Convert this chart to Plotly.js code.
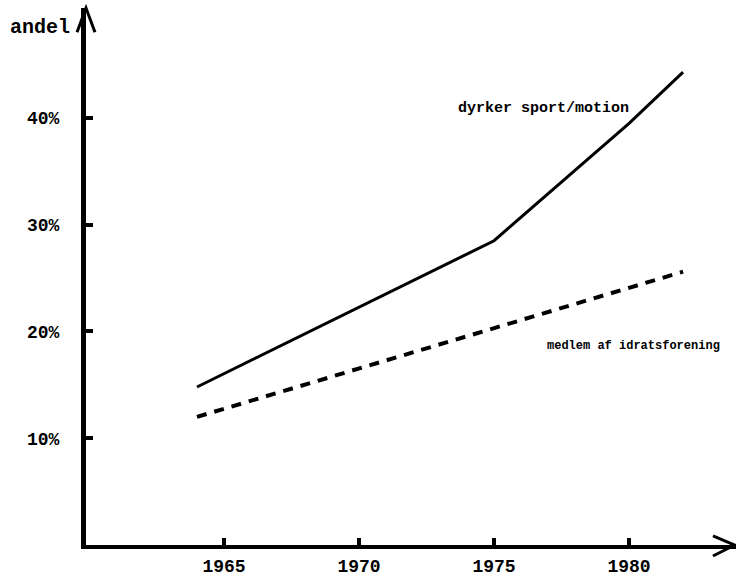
<!DOCTYPE html>
<html>
<head>
<meta charset="utf-8">
<script src="https://cdn.plot.ly/plotly-3.0.1.min.js"></script>
<style>html,body{margin:0;padding:0;background:#fff;}#chart{width:736px;height:579px;}</style>
</head>
<body>
<div id="chart"></div>
<script>
// Data
const sportYears = [1964, 1975, 1980, 1982];
const sportShare = [14.8, 28.5, 39.5, 44.3];
const memberYears = [1964, 1975, 1982];
const memberShare = [12.0, 20.3, 25.6];
const xTickVals = [1965, 1970, 1975, 1980];
const xTickText = ['1965', '1970', '1975', '1980'];
const yTickVals = [10, 20, 30, 40];
const yTickText = ['10%', '20%', '30%', '40%'];
const sportLabel = 'dyrker sport/motion';
const memberLabel = 'medlem af idratsforening';
const yAxisLabel = 'andel';

const mono = 'Liberation Mono, DejaVu Sans Mono, monospace';

const traces = [
  {x: sportYears, y: sportShare, type: 'scatter', mode: 'lines',
   line: {color: '#000', width: 3}, hoverinfo: 'skip', showlegend: false},
  {x: memberYears, y: memberShare, type: 'scatter', mode: 'lines',
   line: {color: '#000', width: 4, dash: '10px,8px'}, hoverinfo: 'skip', showlegend: false}
];

const layout = {
  width: 736, height: 579,
  margin: {l: 86, r: 0, t: 8, b: 34},
  paper_bgcolor: '#fff', plot_bgcolor: '#fff',
  showlegend: false,
  xaxis: {
    range: [1959.89, 1983.96], showgrid: false, zeroline: false,
    showline: true, linecolor: '#000', linewidth: 4,
    ticks: 'inside', ticklen: 7, tickwidth: 4, tickcolor: '#000',
    tickvals: xTickVals, ticktext: xTickText,
    ticklabelstandoff: 1,
    tickfont: {family: mono, size: 18, color: '#000', weight: 'bold'}
  },
  yaxis: {
    range: [0, 50.3], showgrid: false, zeroline: false,
    showline: true, linecolor: '#000', linewidth: 5,
    ticks: 'inside', ticklen: 7, tickwidth: 4, tickcolor: '#000',
    tickvals: yTickVals, ticktext: yTickText,
    ticklabelstandoff: 18,
    tickfont: {family: mono, size: 18, color: '#000', weight: 'bold'}
  },
  annotations: [
    {x: 1973.6, y: 40.9, xref: 'x', yref: 'y', text: sportLabel, showarrow: false,
     xanchor: 'left', yanchor: 'middle', font: {family: mono, size: 15, color: '#000', weight: 'bold'}},
    {x: 1976.9, y: 18.6, xref: 'x', yref: 'y', text: memberLabel, showarrow: false,
     xanchor: 'left', yanchor: 'middle', font: {family: mono, size: 12, color: '#000', weight: 'bold'}},
    {x: -0.0708, y: 0.963, xref: 'paper', yref: 'paper', text: yAxisLabel, showarrow: false,
     xanchor: 'center', yanchor: 'middle', font: {family: mono, size: 20, color: '#000', weight: 'bold'}}
  ],
  shapes: [
    {type: 'path', xref: 'paper', yref: 'paper',
     path: 'M 0.9646,0.0168 L 0.998,0 L 0.9646,-0.0205',
     line: {color: '#000', width: 3}},
    {type: 'path', xref: 'paper', yref: 'paper',
     path: 'M -0.0138,0.955 L 0,1.0 L 0.0138,0.955',
     line: {color: '#000', width: 3}}
  ]
};

Plotly.newPlot('chart', traces, layout, {displayModeBar: false, staticPlot: true});
</script>
</body>
</html>
